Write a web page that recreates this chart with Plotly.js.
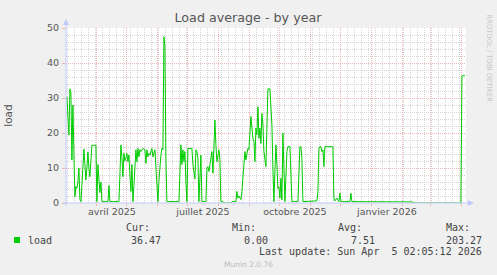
<!DOCTYPE html>
<html>
<head>
<meta charset="utf-8">
<script src="https://cdn.plot.ly/plotly-3.0.1.min.js"></script>
<style>
html,body{margin:0;padding:0;background:#F0F0F0;}
#chart{width:497px;height:275px;}
</style>
</head>
<body>
<div id="chart"></div>
<script>
// ---- data ----
const dates = [
 '2025-03-02','2025-03-04','2025-03-05','2025-03-06','2025-03-07','2025-03-08','2025-03-09','2025-03-10',
 '2025-03-11','2025-03-12','2025-03-13','2025-03-14','2025-03-15','2025-03-16','2025-03-17','2025-03-18',
 '2025-03-19','2025-03-20','2025-03-21','2025-03-22','2025-03-23','2025-03-24','2025-03-25','2025-03-26',
 '2025-03-27','2025-03-31','2025-04-01','2025-04-02','2025-04-03','2025-04-04','2025-04-05','2025-04-06',
 '2025-04-12','2025-04-13','2025-04-14','2025-04-23','2025-04-24','2025-04-25','2025-04-26','2025-04-27',
 '2025-04-28','2025-04-29','2025-04-30','2025-05-01','2025-05-02','2025-05-03','2025-05-04','2025-05-05',
 '2025-05-06','2025-05-07','2025-05-08','2025-05-09','2025-05-10','2025-05-11','2025-05-12','2025-05-13',
 '2025-05-14','2025-05-15','2025-05-17','2025-05-19','2025-05-20','2025-05-21','2025-05-22','2025-05-23',
 '2025-05-24','2025-05-26','2025-05-27','2025-05-29','2025-05-30','2025-05-31','2025-06-01','2025-06-02',
 '2025-06-03','2025-06-04','2025-06-05','2025-06-06','2025-06-07','2025-06-08','2025-06-09','2025-06-10',
 '2025-06-22','2025-06-23','2025-06-24','2025-06-25','2025-06-26','2025-06-27','2025-06-28','2025-06-29',
 '2025-06-30','2025-07-01','2025-07-05','2025-07-06','2025-07-08','2025-07-09','2025-07-10','2025-07-11',
 '2025-07-12','2025-07-14','2025-07-15','2025-07-19','2025-07-20','2025-07-21','2025-07-22','2025-07-24',
 '2025-07-25','2025-07-26','2025-07-27','2025-07-28','2025-07-29','2025-07-30','2025-08-01','2025-08-02',
 '2025-08-03','2025-08-05','2025-08-06','2025-08-13','2025-08-14','2025-08-18','2025-08-19','2025-08-20',
 '2025-08-21','2025-08-23','2025-08-24','2025-08-26','2025-08-27','2025-08-28','2025-08-29','2025-08-30',
 '2025-08-31','2025-09-01','2025-09-02','2025-09-04','2025-09-05','2025-09-06','2025-09-07','2025-09-08',
 '2025-09-09','2025-09-10','2025-09-11','2025-09-12','2025-09-13','2025-09-14','2025-09-15','2025-09-17',
 '2025-09-18','2025-09-19','2025-09-21','2025-09-23','2025-09-24','2025-09-25','2025-09-26','2025-09-27',
 '2025-09-28','2025-09-29','2025-09-30','2025-10-01','2025-10-02','2025-10-03','2025-10-04','2025-10-05',
 '2025-10-06','2025-10-08','2025-10-09','2025-10-11','2025-10-12','2025-10-13','2025-10-19','2025-10-20',
 '2025-10-21','2025-10-22','2025-10-23','2025-10-24','2025-11-06','2025-11-07','2025-11-08','2025-11-09',
 '2025-11-10','2025-11-11','2025-11-12','2025-11-13','2025-11-14','2025-11-15','2025-11-23','2025-11-24',
 '2025-11-25','2025-11-27','2025-11-29','2025-11-30','2025-12-01','2025-12-10','2025-12-11','2025-12-12',
 '2026-02-11','2026-02-12','2026-03-30','2026-03-31','2026-04-01','2026-04-04'
];
const loadValues = [
 30.4,19.4,32.6,31.5,12.3,28,14,1.8,
 4.7,4.2,6,10,1,0.4,5,10,
 15.4,11,6.6,10,14.6,10,7.5,12,
 16.5,16.5,0.4,11,7,3,6,0.4,
 0.4,5,0.4,0.4,8,16.6,13,7.5,
 14.2,12,13,14.2,11.8,13.7,8,3.3,
 11,0.4,5,10,15.2,11.8,15.6,13.2,
 15.2,14.7,15.6,15.2,11.3,15.2,13.2,14.2,
 13.7,15.6,13.2,15.2,9.5,7.1,0.4,6.2,
 11.8,13.7,15.6,15.2,47.5,44.7,12.8,0.4,
 0.4,8,16.6,11,15.2,11.8,14.7,6,
 0.4,15.6,15.6,11,6.9,15.2,14.7,12.8,
 0.4,13.7,0.4,0.4,10,10.4,9,12.8,
 14.7,8.5,15.6,23.7,16.6,11.8,15.2,12.3,
 0.4,0.4,0,0,0.4,0.4,3.3,1.4,
 2,1,3.3,12.8,14.7,12.3,13.7,15.6,
 15.2,22.3,24.7,18.5,17.6,11.8,21.4,19.5,
 27.5,18.5,21.4,17,25.6,22.3,14.7,10.4,
 19.5,32.6,32.6,22.3,10,0.4,9,16.6,
 11,4.2,4.6,1.4,7.1,0.9,20,12.8,
 0.4,14.7,16.1,16.1,10,0.4,0.4,9,
 16.1,16.1,12.8,0.4,0.4,0.6,3.3,15.6,
 16.1,16.1,14.7,15.2,10.4,16.1,16.1,1.4,
 0.6,1.4,0.4,2.8,0.4,0.4,2.8,0.4,
 0.3,0,0,0,36.3,36.47
];
const xRange = ['2025-03-01 02:05:12', '2026-04-05 02:05:12'];
const yRange = [0, 50];
const monthLabelDates = ['2025-04-16', '2025-07-16', '2025-10-16', '2026-01-16'];
const monthLabels = ['avril 2025', 'juillet 2025', 'octobre 2025', 'janvier 2026'];
const seriesName = 'load';
const statLabels = ['Cur:', 'Min:', 'Avg:', 'Max:'];
const statValues = ['36.47', '0.00', '7.51', '203.27'];
const titleText = 'Load average - by year';
const lastUpdate = 'Last update: Sun Apr  5 02:05:12 2026';
const footer = 'Munin 2.0.76';
const sideText = 'RRDTOOL / TOBI OETIKER';

// ---- layout helpers (pixel -> paper) ----
const L = 66, T = 28, W = 400, H = 175;
const px = x => (x - L) / W;
const py = y => (T + H - y) / H;

const axisCol = '#c0c8f8';
const majorGrid = '#ecb4b4';
const minorGrid = '#d6d6d6';
const textCol = '#555555';
const mono = 'DejaVu Sans Mono, monospace';

const traces = [
  {x: dates, y: loadValues, type: 'scatter', mode: 'lines', name: seriesName,
   line: {color: '#00CC00', width: 1}, hoverinfo: 'skip'},
  {x: [], y: [], xaxis: 'x2', yaxis: 'y', type: 'scatter', showlegend: false}
];

const annotations = [];
const statRight = [150.7, 256.7, 363, 470.7];
const valRight = [162.3, 269.3, 376, 482.7];
statLabels.forEach((s, i) => {
  annotations.push({xref:'paper', yref:'paper', x: px(statRight[i] + 1), y: py(227.7), xanchor:'right', yanchor:'middle',
    text: s, showarrow:false, font:{family: mono, size: 10, color:'#444'}});
  annotations.push({xref:'paper', yref:'paper', x: px(valRight[i] + 1), y: py(240), xanchor:'right', yanchor:'middle',
    text: statValues[i], showarrow:false, font:{family: mono, size: 10, color:'#444'}});
});
annotations.push({xref:'paper', yref:'paper', x: px(25.7), y: py(240), xanchor:'left', yanchor:'middle',
  text: seriesName, showarrow:false, font:{family: mono, size: 10, color:'#444'}});
annotations.push({xref:'paper', yref:'paper', x: px(483.7), y: py(251.7), xanchor:'right', yanchor:'middle',
  text: lastUpdate.replace(/  /g, ' &nbsp;'), showarrow:false, font:{family: mono, size: 10, color:'#444'}});
annotations.push({xref:'paper', yref:'paper', x: px(248), y: py(264), xanchor:'center', yanchor:'middle',
  text: footer, showarrow:false, font:{family:'DejaVu Sans', size: 7.5, color:'#bbbbbb'}});
annotations.push({xref:'paper', yref:'paper', x: px(489), y: py(58.5), xanchor:'center', yanchor:'middle',
  text: sideText, textangle: 90, showarrow:false, font:{family:'DejaVu Sans', size: 6.8, color:'#c4c4c4'}});

const shapes = [
  // legend colour box
  {type:'rect', xref:'paper', yref:'paper', x0: px(14), x1: px(20), y0: py(243), y1: py(237),
   fillcolor:'#00CC00', line:{width:0}},
  // x axis line + arrow
  {type:'line', xref:'paper', yref:'paper', x0: px(63), x1: px(469), y0: 0, y1: 0,
   line:{color: axisCol, width: 1}, layer:'above'},
  {type:'path', xref:'paper', yref:'paper', layer:'above', fillcolor: axisCol, line:{width:0},
   path: `M ${px(468)} ${py(200)} L ${px(474)} ${py(203)} L ${px(468)} ${py(206)} Z`},
  // y axis line + arrow
  {type:'line', xref:'paper', yref:'paper', x0: 0, x1: 0, y0: py(206), y1: py(25),
   line:{color: axisCol, width: 1}, layer:'above'},
  {type:'path', xref:'paper', yref:'paper', layer:'above', fillcolor: axisCol, line:{width:0},
   path: `M ${px(63)} ${py(25)} L ${px(66)} ${py(19)} L ${px(69)} ${py(25)} Z`}
];

const layout = {
  width: 497, height: 275,
  margin: {l: L, r: 497 - L - W, t: T, b: 275 - T - H, pad: 0},
  paper_bgcolor: '#F0F0F0', plot_bgcolor: '#FFFFFF',
  showlegend: false,
  font: {family: 'DejaVu Sans', color: textCol},
  title: {text: titleText, xref: 'container', yref: 'container', x: 248/497, y: 1 - 18/275,
          xanchor: 'center', yanchor: 'middle', font: {family: 'DejaVu Sans', size: 12.7, color: textCol}},
  xaxis: {type: 'date', range: xRange, tickmode: 'linear', dtick: 'M1', tick0: '2025-01-01',
          showticklabels: false, showgrid: true, gridcolor: majorGrid, griddash: '1px,1px', gridwidth: 1,
          ticks: 'outside', ticklen: 2, tickcolor: majorGrid, zeroline: false, showline: false, fixedrange: true,
          minor: {dtick: 7*86400000, tick0: '2025-03-10', showgrid: true, gridcolor: minorGrid, griddash: '1px,1px', ticks: ''}},
  xaxis2: {type: 'date', overlaying: 'x', anchor: 'y', side: 'bottom', range: xRange,
           tickmode: 'array', tickvals: monthLabelDates, ticktext: monthLabels,
           showgrid: false, zeroline: false, showline: false, ticks: '',
           ticklabelstandoff: 1,
           tickfont: {family: 'DejaVu Sans', size: 9.5, color: textCol}},
  yaxis: {range: yRange, tickmode: 'linear', dtick: 10, tick0: 0, showgrid: true, gridcolor: majorGrid,
          griddash: '1px,1px', zeroline: false, showline: false, ticks: 'outside', ticklen: 3, tickcolor: majorGrid,
          ticklabelstandoff: 1,
          tickfont: {family: 'DejaVu Sans', size: 9.5, color: textCol},
          title: {text: 'load', standoff: 32, font: {family: 'DejaVu Sans', size: 10.5, color: textCol}},
          minor: {dtick: 2, showgrid: true, gridcolor: minorGrid, griddash: '1px,1px', ticks: ''}},
  annotations: annotations,
  shapes: shapes
};

Plotly.newPlot('chart', traces, layout, {displayModeBar: false, staticPlot: true});
</script>
</body>
</html>
